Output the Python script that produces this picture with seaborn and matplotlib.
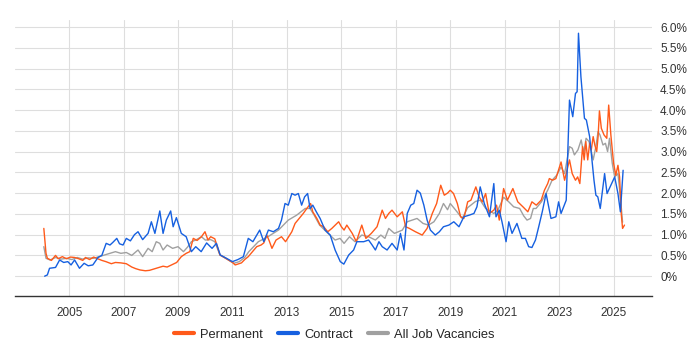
import matplotlib
matplotlib.use("Agg")
import matplotlib.pyplot as plt
import seaborn as sns
import pandas as pd

# decimal years and percentages
perm_year = [2004.07, 2004.15, 2004.2, 2004.35, 2004.5, 2004.6, 2004.75, 2004.9, 2005.05, 2005.2,
             2005.35, 2005.5, 2005.6, 2005.75, 2005.9, 2006.05, 2006.2, 2006.35, 2006.55, 2006.7,
             2006.9, 2007.1, 2007.3, 2007.45, 2007.6, 2007.8, 2007.95, 2008.15, 2008.3, 2008.45,
             2008.6, 2008.76, 2008.95, 2009.12, 2009.3, 2009.43, 2009.56, 2009.7, 2009.86, 2009.99,
             2010.1, 2010.2, 2010.35, 2010.45, 2010.54, 2010.7, 2010.85, 2011.0, 2011.1, 2011.33,
             2011.45, 2011.58, 2011.75, 2011.89, 2012.05, 2012.15, 2012.26, 2012.35, 2012.45, 2012.6,
             2012.8, 2012.95, 2013.18, 2013.3, 2013.45, 2013.6, 2013.72, 2013.87, 2013.95, 2014.1,
             2014.22, 2014.35, 2014.5, 2014.65, 2014.9, 2015.0, 2015.1, 2015.2, 2015.4, 2015.55,
             2015.75, 2015.9, 2016.1, 2016.31, 2016.5, 2016.62, 2016.74, 2016.86, 2017.05, 2017.24,
             2017.36, 2017.5, 2017.72, 2017.97, 2018.15, 2018.34, 2018.5, 2018.65, 2018.78, 2018.9,
             2019.0, 2019.12, 2019.26, 2019.38, 2019.5, 2019.64, 2019.76, 2019.94, 2020.06, 2020.18,
             2020.3, 2020.43, 2020.6, 2020.7, 2020.8, 2020.96, 2021.1, 2021.3, 2021.48, 2021.67,
             2021.85, 2022.0, 2022.16, 2022.34, 2022.46, 2022.58, 2022.64, 2022.76, 2022.88, 2023.07,
             2023.2, 2023.38, 2023.48, 2023.6, 2023.68, 2023.76, 2023.86, 2023.92, 2023.98, 2024.05,
             2024.12, 2024.18, 2024.25, 2024.31, 2024.38, 2024.43, 2024.48, 2024.55, 2024.65, 2024.75,
             2024.82, 2024.9, 2025.0, 2025.08, 2025.16, 2025.22, 2025.28, 2025.33, 2025.4]
perm_pct = [1.15, 0.55, 0.43, 0.38, 0.5, 0.42, 0.47, 0.42, 0.46, 0.45,
            0.42, 0.38, 0.45, 0.4, 0.46, 0.42, 0.38, 0.35, 0.3, 0.33,
            0.32, 0.3, 0.22, 0.18, 0.15, 0.13, 0.14, 0.18, 0.21, 0.24,
            0.22, 0.27, 0.33, 0.47, 0.55, 0.59, 0.91, 0.86, 0.95, 1.07,
            0.87, 0.95, 0.9, 0.7, 0.51, 0.45, 0.39, 0.33, 0.27, 0.32,
            0.4, 0.47, 0.6, 0.71, 0.75, 0.8, 0.99, 0.85, 0.67, 0.87,
            0.95, 0.83, 1.07, 1.27, 1.39, 1.51, 1.62, 1.75, 1.55, 1.39,
            1.23, 1.19, 1.07, 1.15, 1.31, 1.19, 1.11, 1.23, 1.03, 0.83,
            1.23, 0.91, 1.03, 1.19, 1.59, 1.39, 1.51, 1.59, 1.43, 1.55,
            1.19, 1.15, 1.07, 0.99, 1.15, 1.51, 1.75, 2.19, 1.95, 2.0,
            2.07, 1.99, 1.75, 1.43, 1.39, 1.79, 1.83, 2.15, 1.91, 1.79,
            1.99, 1.51, 1.59, 1.71, 1.35, 2.11, 1.83, 2.11, 1.79, 1.67,
            1.55, 1.79, 1.71, 1.83, 2.07, 2.23, 2.35, 2.31, 2.35, 2.75,
            2.31, 2.8, 2.47, 2.31, 2.39, 2.23, 3.12, 2.8, 3.24, 2.8,
            3.2, 3.04, 3.36, 3.16, 3.0, 3.36, 3.98, 3.56, 3.4, 3.32,
            4.12, 3.4, 2.72, 2.43, 2.67, 2.39, 1.51, 1.15, 1.23]

contract_year = [2004.1, 2004.2, 2004.28, 2004.5, 2004.65, 2004.8, 2004.95, 2005.07, 2005.2, 2005.38,
                 2005.55, 2005.7, 2005.87, 2006.06, 2006.2, 2006.36, 2006.5, 2006.6, 2006.75, 2006.85,
                 2006.98, 2007.1, 2007.25, 2007.4, 2007.53, 2007.7, 2007.9, 2008.02, 2008.15, 2008.33,
                 2008.45, 2008.57, 2008.73, 2008.82, 2008.94, 2009.12, 2009.3, 2009.49, 2009.65, 2009.85,
                 2010.05, 2010.25, 2010.41, 2010.55, 2010.78, 2011.0, 2011.2, 2011.4, 2011.58, 2011.75,
                 2012.0, 2012.15, 2012.32, 2012.5, 2012.69, 2012.8, 2012.93, 2013.05, 2013.18, 2013.3,
                 2013.42, 2013.54, 2013.65, 2013.76, 2013.85, 2013.95, 2014.08, 2014.22, 2014.4, 2014.59,
                 2014.77, 2014.96, 2015.09, 2015.27, 2015.45, 2015.57, 2015.82, 2016.0, 2016.13, 2016.25,
                 2016.38, 2016.5, 2016.68, 2016.86, 2017.05, 2017.17, 2017.3, 2017.42, 2017.55, 2017.66,
                 2017.78, 2017.9, 2018.03, 2018.15, 2018.27, 2018.45, 2018.6, 2018.75, 2018.95, 2019.13,
                 2019.32, 2019.5, 2019.7, 2019.87, 2019.98, 2020.1, 2020.25, 2020.44, 2020.6, 2020.68,
                 2020.8, 2020.9, 2021.05, 2021.15, 2021.27, 2021.45, 2021.63, 2021.76, 2021.88, 2022.0,
                 2022.13, 2022.25, 2022.38, 2022.52, 2022.7, 2022.88, 2022.98, 2023.07, 2023.26, 2023.38,
                 2023.5, 2023.6, 2023.66, 2023.71, 2023.8, 2023.93, 2024.0, 2024.12, 2024.28, 2024.35,
                 2024.42, 2024.51, 2024.67, 2024.76, 2024.9, 2025.04, 2025.16, 2025.25, 2025.35]
contract_pct = [0.0, 0.03, 0.19, 0.21, 0.39, 0.33, 0.35, 0.27, 0.39, 0.19,
                0.31, 0.25, 0.27, 0.45, 0.5, 0.79, 0.75, 0.81, 0.91, 0.78,
                0.75, 0.91, 0.85, 1.0, 1.07, 0.88, 1.03, 1.31, 1.03, 1.57,
                1.03, 1.35, 1.57, 1.19, 1.41, 1.03, 0.95, 0.59, 0.71, 0.59,
                0.8, 0.67, 0.79, 0.51, 0.43, 0.35, 0.4, 0.47, 0.91, 0.83,
                1.11, 0.83, 1.11, 1.07, 1.15, 1.35, 1.75, 1.71, 1.99, 1.95,
                1.99, 1.71, 1.91, 1.99, 1.63, 1.71, 1.55, 1.39, 1.11, 0.99,
                0.63, 0.35, 0.29, 0.51, 0.63, 0.83, 0.83, 0.87, 0.75, 0.63,
                0.83, 0.71, 0.63, 0.79, 0.63, 1.03, 0.63, 1.51, 1.71, 1.75,
                2.07, 2.0, 1.71, 1.35, 1.11, 0.99, 1.07, 1.19, 1.23, 1.31,
                1.19, 1.43, 1.47, 1.51, 1.67, 2.15, 1.75, 1.43, 2.23, 1.43,
                1.59, 1.31, 0.83, 1.31, 1.03, 1.27, 0.91, 0.91, 0.71, 0.69,
                0.87, 1.19, 1.55, 1.99, 1.39, 1.43, 1.79, 1.51, 1.83, 4.24,
                3.84, 4.4, 4.44, 5.85, 4.8, 3.8, 3.76, 3.36, 2.31, 1.95,
                1.91, 1.63, 2.47, 1.99, 2.19, 2.39, 1.99, 1.55, 2.55]

all_year = [2004.07, 2004.15, 2004.3, 2004.5, 2004.7, 2004.9, 2005.1, 2005.3, 2005.5, 2005.7,
            2005.9, 2006.1, 2006.3, 2006.5, 2006.7, 2006.9, 2007.1, 2007.3, 2007.53, 2007.7,
            2007.9, 2008.05, 2008.2, 2008.33, 2008.45, 2008.6, 2008.8, 2009.0, 2009.2, 2009.35,
            2009.49, 2009.65, 2009.86, 2010.0, 2010.2, 2010.35, 2010.54, 2010.7, 2010.85, 2011.05,
            2011.25, 2011.45, 2011.6, 2011.95, 2012.3, 2012.69, 2012.9, 2013.05, 2013.36, 2013.67,
            2013.85, 2014.0, 2014.2, 2014.45, 2014.77, 2014.95, 2015.1, 2015.3, 2015.5, 2015.75,
            2016.0, 2016.25, 2016.45, 2016.6, 2016.74, 2016.95, 2017.24, 2017.42, 2017.6, 2017.78,
            2018.0, 2018.2, 2018.4, 2018.6, 2018.75, 2018.9, 2019.0, 2019.2, 2019.44, 2019.64,
            2019.93, 2020.1, 2020.3, 2020.5, 2020.6, 2020.75, 2020.96, 2021.15, 2021.33, 2021.55,
            2021.7, 2021.82, 2021.95, 2022.05, 2022.15, 2022.35, 2022.58, 2022.74, 2022.91, 2023.07,
            2023.2, 2023.38, 2023.48, 2023.56, 2023.69, 2023.81, 2023.9, 2023.99, 2024.1, 2024.25,
            2024.35, 2024.43, 2024.5, 2024.61, 2024.7, 2024.78, 2024.85, 2024.95, 2025.04, 2025.16,
            2025.25, 2025.33]
all_pct = [0.71, 0.43, 0.39, 0.45, 0.41, 0.43, 0.4, 0.45, 0.41, 0.44,
           0.43, 0.47, 0.51, 0.55, 0.59, 0.55, 0.57, 0.5, 0.63, 0.47,
           0.67, 0.59, 0.83, 0.79, 0.63, 0.75, 0.67, 0.71, 0.59, 0.7,
           0.83, 0.87, 0.95, 0.87, 0.88, 0.83, 0.51, 0.45, 0.39, 0.31,
           0.35, 0.45, 0.59, 0.83, 0.95, 1.11, 1.25, 1.35, 1.47, 1.63,
           1.63, 1.47, 1.23, 1.07, 0.87, 0.91, 0.79, 0.95, 0.83, 0.99,
           0.95, 0.87, 0.99, 0.91, 1.15, 1.03, 1.11, 1.31, 1.35, 1.39,
           1.27, 1.23, 1.31, 1.51, 1.75, 1.6, 1.75, 1.59, 1.39, 1.65,
           1.8, 1.83, 1.63, 1.55, 1.51, 1.59, 1.9, 1.79, 1.67, 1.63,
           1.45, 1.35, 1.39, 1.63, 1.63, 1.79, 2.07, 2.31, 2.43, 2.63,
           2.47, 3.12, 3.08, 2.92, 3.04, 3.28, 2.96, 3.32, 3.24, 2.8,
           3.12, 3.48, 3.4, 3.16, 3.2, 3.0, 3.32, 2.72, 2.39, 2.47,
           1.9, 1.3]

series_names = ["Permanent", "Contract", "All Job Vacancies"]
colours = ["#ff5a1a", "#1660e0", "#a0a0a0"]

df = pd.concat([
    pd.DataFrame({"year": all_year, "pct": all_pct, "series": "All Job Vacancies"}),
    pd.DataFrame({"year": perm_year, "pct": perm_pct, "series": "Permanent"}),
    pd.DataFrame({"year": contract_year, "pct": contract_pct, "series": "Contract"}),
])

sns.set_style("white")
plt.rcParams["font.family"] = ["Liberation Sans", "DejaVu Sans"]

fig, ax = plt.subplots(figsize=(7, 3.5), dpi=100)
fig.subplots_adjust(left=0.021, right=0.931, bottom=0.154, top=0.943)

# grey underneath, then orange, blue on top
for name, col in zip(["All Job Vacancies", "Permanent", "Contract"], ["#a0a0a0", "#ff5a1a", "#1660e0"]):
    sub = df[df.series == name]
    sns.lineplot(data=sub, x="year", y="pct", color=col, lw=1.0, ax=ax,
                 estimator=None, sort=False, label=name)

ax.set_xlim(2003.0, 2026.4)
ax.set_ylim(-0.48, 6.17)
ax.set_xticks(range(2005, 2026, 2))
ax.set_yticks([i * 0.5 for i in range(13)])
ax.set_yticklabels(["0%"] + ["%.1f%%" % (i * 0.5) for i in range(1, 13)])
ax.yaxis.tick_right()
ax.grid(True, color="#dedede", lw=0.8)
ax.set_axisbelow(True)
for s in ["top", "left", "right"]:
    ax.spines[s].set_visible(False)
ax.spines["bottom"].set_color("#333333")
ax.spines["bottom"].set_linewidth(1.0)
ax.tick_params(axis="x", length=5, width=0.8, color="#333333", labelsize=8.5, labelcolor="#333333", pad=3)
ax.tick_params(axis="y", length=0, labelsize=8.5, labelcolor="#333333", pad=6)
ax.set_xlabel("")
ax.set_ylabel("")

ax.get_legend().remove()
handles = [plt.Line2D([], [], color=c, lw=3) for c in colours]
fig.legend(handles, series_names, loc="center", bbox_to_anchor=(0.478, 0.043), ncol=3,
           frameon=False, fontsize=9.3, handlelength=1.5, handletextpad=0.5, columnspacing=1.2)

fig.savefig("out.png", dpi=100)
